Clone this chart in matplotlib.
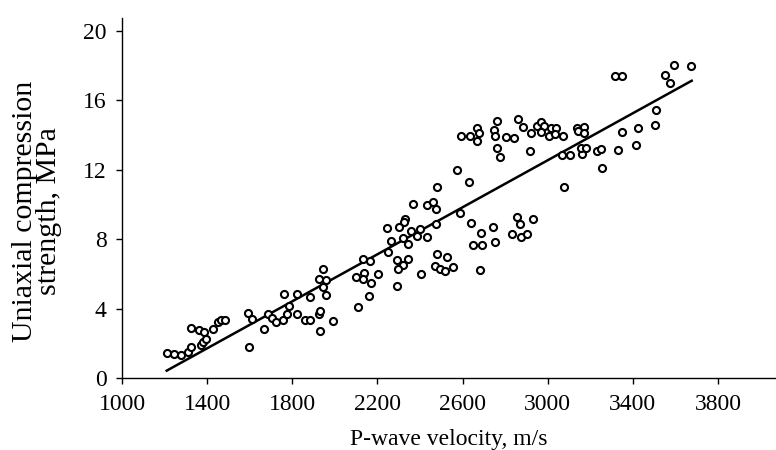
import matplotlib
matplotlib.use("Agg")
import matplotlib.pyplot as plt

# P-wave velocity (m/s) and uniaxial compression strength (MPa)
vp = [
    1210, 1244, 1276, 1308, 1322, 1322, 1362, 1385, 1373, 1380, 1395, 1426, 1451, 1467, 1482,
    1593, 1611, 1597, 1667, 1686, 1705, 1725, 1755, 1761, 1786, 1777, 1820, 1820, 1858, 1883,
    1883, 1924, 1930, 1930, 1946, 1957, 1958, 1927, 1943, 1993, 2099, 2107,
    2480, 2631, 3076, 2367, 2434, 2461, 2475, 2586, 2329, 2325, 2246, 2303, 2356, 2400, 2475,
    2638, 2741, 2688, 2855, 2871, 2932, 2832, 2873, 2904, 2750, 2650, 2693, 2321, 2386, 2433,
    2262, 2343, 2249, 2134, 2165, 2293, 2343, 2321, 2296, 2478, 2525, 2470, 2494, 2519, 2556,
    2682, 2406, 2204, 2137, 2134, 2171, 2290, 2160,
    2572, 2593, 2635, 2666, 2676, 2669, 2763, 2748, 2754, 2804, 2843, 2862, 2882, 2921, 2951,
    2967, 2982, 2967, 3014, 3037, 3007, 3033, 2760, 2776, 2918,
    3317, 3350, 3594, 3675, 3552, 3574, 3509, 3070, 3138, 3171, 3143, 3170, 3348, 3423, 3502,
    3068, 3104, 3162, 3157, 3178, 3229, 3251, 3328, 3414, 3256,
]
ucs = [
    1.46, 1.38, 1.36, 1.49, 1.82, 2.91, 2.78, 2.66, 1.92, 2.11, 2.26, 2.85, 3.26, 3.37, 3.33,
    3.78, 3.41, 1.82, 2.84, 3.72, 3.49, 3.24, 3.37, 4.83, 4.16, 3.68, 3.72, 4.83, 3.35, 3.35,
    4.66, 3.68, 3.87, 2.70, 5.27, 4.79, 5.64, 5.71, 6.27, 3.30, 5.81, 4.12,
    10.99, 11.29, 11.03, 10.03, 9.99, 10.14, 9.72, 9.49, 9.17, 8.97, 8.65, 8.72, 8.49, 8.57, 8.90,
    8.92, 8.69, 8.38, 9.30, 8.86, 9.17, 8.32, 8.15, 8.28, 7.84, 7.67, 7.69, 8.07, 8.19, 8.13,
    7.90, 7.71, 7.25, 6.86, 6.75, 6.81, 6.88, 6.50, 6.29, 7.13, 7.00, 6.46, 6.31, 6.17, 6.42,
    6.23, 6.02, 6.02, 6.04, 5.69, 5.46, 5.33, 4.75,
    11.97, 13.92, 13.96, 14.38, 14.11, 13.65, 14.80, 14.29, 13.92, 13.86, 13.84, 14.92, 14.46, 14.11, 14.54,
    14.73, 14.50, 14.19, 14.38, 14.40, 13.96, 14.04, 13.23, 12.73, 13.08,
    17.41, 17.41, 18.03, 17.97, 17.45, 16.97, 15.44, 13.96, 14.42, 14.44, 14.21, 14.13, 14.19, 14.42, 14.55,
    12.83, 12.85, 12.91, 13.27, 13.25, 13.10, 13.21, 13.14, 13.44, 12.12,
]

# Regression line end points
line_x = [1210, 3676]
line_y = [0.44, 17.12]

x_ticks = [1000, 1400, 1800, 2200, 2600, 3000, 3400, 3800]
y_ticks = [0, 4, 8, 12, 16, 20]

plt.rcParams['font.family'] = ['Liberation Serif', 'DejaVu Serif']

fig = plt.figure(figsize=(7.76, 4.5), dpi=100)
ax = fig.add_axes([122/776, 1 - 378.3/450, 1 - 122/776, (378.3 - 18)/450])

ax.scatter(vp, ucs, s=26, facecolors='white', edgecolors='black', linewidths=1.5, zorder=3)
ax.plot(line_x, line_y, color='black', lw=1.8, zorder=2)

ax.set_xlim(1000, 4072)
ax.set_ylim(0, 20.73)
ax.set_xticks(x_ticks)
ax.set_yticks(y_ticks)
ax.tick_params(axis='both', direction='out', length=4, width=1, labelsize=17, colors='black')
ax.tick_params(axis='x', pad=7)
ax.tick_params(axis='y', pad=7)
for s in ['top', 'right']:
    ax.spines[s].set_visible(False)
for s in ['left', 'bottom']:
    ax.spines[s].set_linewidth(1.0)

ax.set_xlabel('P-wave velocity, m/s', fontsize=17)
ax.set_ylabel('Uniaxial compression\nstrength, MPa', fontsize=21.5, linespacing=0.9)
ax.xaxis.set_label_coords(0.5, -0.141)
ax.yaxis.set_label_coords(-0.092, 0.464)

fig.savefig('out.png', dpi=100)
